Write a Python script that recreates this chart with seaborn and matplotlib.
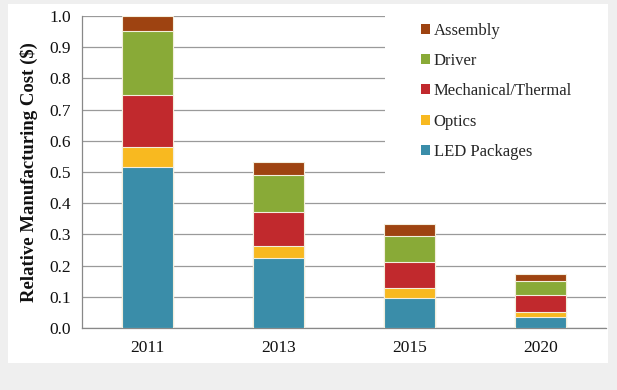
import numpy as np
import pandas as pd
import matplotlib.pyplot as plt
from matplotlib.patches import Rectangle, Patch
import seaborn as sns

sns.set_theme(style="white")
plt.rcParams['font.family'] = ['Liberation Serif', 'DejaVu Serif']

# Data (stacked from bottom to top)
years = ['2011', '2013', '2015', '2020']
components = ['LED Packages', 'Optics', 'Mechanical/Thermal', 'Driver', 'Assembly']
led_packages = [0.516, 0.223, 0.096, 0.034]
optics = [0.063, 0.040, 0.031, 0.017]
mechanical = [0.169, 0.108, 0.084, 0.056]
driver = [0.204, 0.119, 0.084, 0.044]
assembly = [0.048, 0.043, 0.039, 0.021]

colors = {
    'LED Packages': '#3a8da9',
    'Optics': '#f8b920',
    'Mechanical/Thermal': '#c1292d',
    'Driver': '#89aa37',
    'Assembly': '#9e4311',
}

values = [led_packages, optics, mechanical, driver, assembly]
rows = []
for comp, vals in zip(components, values):
    for yr, v in zip(years, vals):
        rows.append({'year': yr, 'component': comp, 'value': v})
df = pd.DataFrame(rows)

# cumulative tops for each layer
wide = df.pivot(index='year', columns='component', values='value')[components]
cum = wide.cumsum(axis=1).reset_index()

fig = plt.figure(figsize=(6.17, 3.90), dpi=100)
fig.patch.set_facecolor('#efefef')
fig.patches.append(Rectangle((8 / 617, 27 / 390), 600 / 617, 359 / 390,
                             transform=fig.transFigure, facecolor='white',
                             edgecolor='none', zorder=-5))

ax = fig.add_axes([81.7 / 617, 62 / 390, 524.3 / 617, 312 / 390])
ax.set_facecolor('none')

# draw from the top layer down so each lower layer covers the one above
for comp in reversed(components):
    sns.barplot(data=cum, x='year', y=comp, color=colors[comp], width=0.39,
                errorbar=None, edgecolor='#f3eedc', linewidth=0.8,
                saturation=1, ax=ax, zorder=3)

ax.set_xlim(-0.5, 3.5)
ax.set_ylim(0, 1.0)
ax.set_yticks(np.arange(0, 1.01, 0.1))
ax.set_yticklabels([f'{t:.1f}' for t in np.arange(0, 1.01, 0.1)], fontsize=12.5)
ax.set_xticks(range(len(years)))
ax.set_xticklabels(years, fontsize=12.5)
ax.set_xticks([-0.5, 0.5, 1.5, 2.5, 3.5], minor=True)
ax.tick_params(axis='x', which='major', length=0, pad=9, colors='#111111')
ax.tick_params(axis='x', which='minor', length=5, width=0.8, color='#888888')
ax.tick_params(axis='y', length=5, width=0.8, pad=3, colors='#111111')
ax.tick_params(axis='y', color='#888888')

ax.yaxis.grid(True, color='#9a9a9a', linewidth=0.9, zorder=0)
ax.set_axisbelow(True)
for side in ['top', 'right']:
    ax.spines[side].set_visible(False)
for side in ['left', 'bottom']:
    ax.spines[side].set_color('#888888')
    ax.spines[side].set_linewidth(0.9)

ax.set_xlabel('')
ax.set_ylabel('Relative Manufacturing Cost ($)', fontsize=13.5, fontweight='bold',
              color='#111111')
ax.yaxis.set_label_coords(-0.083, 0.5)

# white box behind the legend hides the gridlines there
ax.add_patch(Rectangle((0.578, 0.474), 0.422, 0.53, transform=ax.transAxes,
                       facecolor='white', edgecolor='none', zorder=1,
                       clip_on=False))

handles = [Patch(facecolor=colors[c], edgecolor='none') for c in reversed(components)]
fig.legend(handles, list(reversed(components)), loc='upper left',
           bbox_to_anchor=(421 / 617, 1 - 23 / 390), frameon=False,
           fontsize=12, handlelength=0.55, handleheight=0.55,
           handletextpad=0.2, labelspacing=0.85, borderpad=0, borderaxespad=0)

fig.savefig('out.png', dpi=100, facecolor=fig.get_facecolor())
